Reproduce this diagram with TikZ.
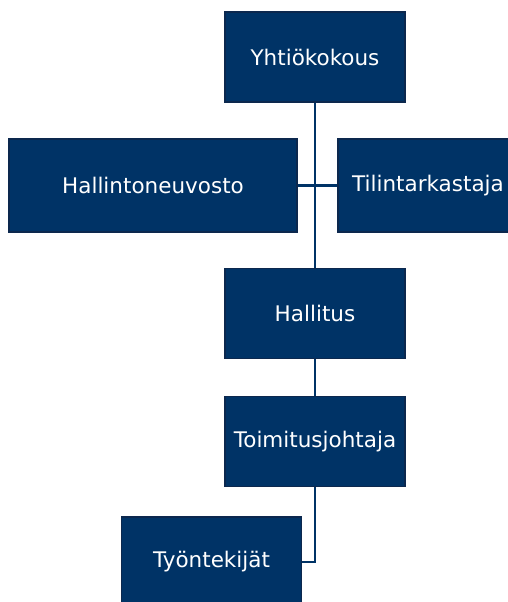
\documentclass[tikz,border=0pt]{standalone}
\usepackage{fontspec}
\setmainfont{DejaVu Sans}
\definecolor{navy}{RGB}{0,51,102}
\definecolor{navyline}{RGB}{12,40,78}
\begin{document}
\begin{tikzpicture}[x=1pt, y=-1pt,
    box/.style={draw=navyline, line width=1.5pt, fill=navy, text=white, minimum width=180pt, minimum height=90pt, inner sep=0pt, font=\fontsize{21.5}{26}\selectfont},
    link/.style={draw=navy, line width=2.4pt}]
    \useasboundingbox (0, 0) rectangle (507, 602);

    \node[box] (yk) at (315, 57) {Yhtiökokous};
    \node[box, minimum width=288pt, minimum height=93pt] (hn) at (153, 185.5) {Hallintoneuvosto};
    \node[box, minimum height=93pt] (tt) at (428, 185.5) {Tilintarkastaja};
    \node[box] (hal) at (315, 313.5) {Hallitus};
    \node[box] (tj) at (315, 441.5) {Toimitusjohtaja};
    \node[box] (ty) at (211.5, 562) {Työntekijät};

    \draw[link] (yk) -- (hal);
    \draw[link] (hn) -- (tt);
    \draw[link] (hal) -- (tj);
    \draw[link] (tj) |- (ty);
\end{tikzpicture}
\end{document}
